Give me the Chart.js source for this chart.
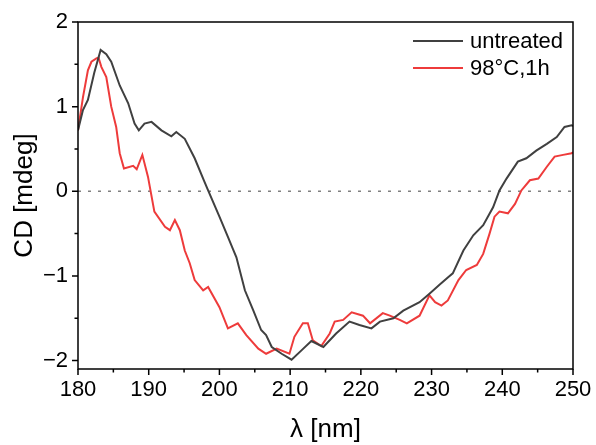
<!DOCTYPE html>
<html>
<head>
<meta charset="utf-8">
<script src="https://cdn.jsdelivr.net/npm/chart.js@4/dist/chart.umd.min.js"></script>
<style>
  html, body { margin: 0; padding: 0; background: #fff; }
  #wrap { width: 596px; height: 445px; }
</style>
</head>
<body>
<div id="wrap"><canvas id="cd"></canvas></div>
<script>
// wavelength (nm) and CD (mdeg)
const lamUntreated = [180, 180.7, 181.4, 182.3, 183.2, 184, 184.7, 185.9, 187.1, 188, 188.6, 189.4, 190.4, 191.8, 193.2, 193.9, 195.1, 196.5, 197.8, 198.4, 200, 201.2, 201.9, 202.4, 203.6, 204.8, 205.9, 206.6, 207.4, 208.8, 210.2, 211.6, 213, 214.7, 216.5, 218.4, 219.8, 221.5, 222.7, 224.6, 226, 228.3, 229.7, 231.2, 232.3, 233, 234.5, 235.9, 237.3, 238.7, 239.6, 240.6, 242.2, 243.4, 244.8, 246.3, 247.7, 248.8, 249.8, 250];
const cdUntreated  = [0.72, 0.96, 1.08, 1.4, 1.67, 1.62, 1.53, 1.25, 1.04, 0.80, 0.72, 0.80, 0.82, 0.72, 0.65, 0.70, 0.62, 0.39, 0.13, 0.01, -0.30, -0.54, -0.68, -0.78, -1.17, -1.41, -1.64, -1.70, -1.84, -1.92, -1.99, -1.88, -1.77, -1.84, -1.68, -1.54, -1.58, -1.62, -1.54, -1.50, -1.41, -1.31, -1.21, -1.10, -1.02, -0.97, -0.70, -0.52, -0.40, -0.19, 0.01, 0.15, 0.35, 0.39, 0.48, 0.56, 0.64, 0.76, 0.78, 0.77];

const lamHeated = [180, 180.7, 181.4, 181.9, 182.6, 182.9, 183.3, 184, 184.7, 185.4, 185.9, 186.5, 187.8, 188.3, 189.1, 189.9, 190.8, 192.3, 193, 193.7, 194.4, 195.1, 195.8, 196.5, 197.7, 198.4, 200, 201.2, 202.6, 203.8, 205.5, 206.6, 208.1, 209.9, 210.6, 211.8, 212.5, 213.2, 214.4, 215.6, 216.3, 217.5, 218.7, 220.3, 221.3, 223.1, 224.1, 225.5, 226.5, 228.3, 229.7, 230.5, 231.4, 232.3, 233.8, 234.9, 236.4, 237.3, 238.2, 238.9, 239.6, 240.8, 241.8, 242.7, 243.9, 245.1, 246.3, 247.4, 248.6, 249.8, 250];
const cdHeated  = [0.72, 1.11, 1.43, 1.53, 1.57, 1.58, 1.47, 1.35, 1.00, 0.76, 0.45, 0.27, 0.30, 0.26, 0.43, 0.17, -0.24, -0.42, -0.46, -0.34, -0.46, -0.70, -0.85, -1.05, -1.17, -1.13, -1.37, -1.62, -1.56, -1.70, -1.86, -1.92, -1.86, -1.92, -1.72, -1.56, -1.56, -1.76, -1.83, -1.68, -1.54, -1.52, -1.43, -1.47, -1.56, -1.44, -1.47, -1.52, -1.56, -1.47, -1.23, -1.31, -1.35, -1.29, -1.05, -0.93, -0.87, -0.74, -0.50, -0.30, -0.24, -0.26, -0.15, 0.01, 0.13, 0.15, 0.29, 0.41, 0.43, 0.45, 0.46];

const seriesNames = ['untreated', '98\u00b0C,1h'];
const yMajor = [-2, -1, 0, 1, 2];

const FONT = 'Arial, "Liberation Sans", sans-serif';

function pts(xs, ys) { return xs.map((x, i) => ({ x: x, y: ys[i] })); }

// frame, outward ticks, dotted zero line, legend
const decor = {
  id: 'decor',
  beforeDatasetsDraw(chart) {
    const { ctx, chartArea: a, scales: { x, y } } = chart;
    const y0 = y.getPixelForValue(0);
    ctx.save();
    ctx.strokeStyle = '#808080';
    ctx.lineWidth = 1.5;
    ctx.setLineDash([3, 7]);
    ctx.beginPath();
    ctx.moveTo(a.left, y0);
    ctx.lineTo(a.right, y0);
    ctx.stroke();
    ctx.restore();
  },
  afterDraw(chart) {
    const { ctx, chartArea: a, scales: { x, y } } = chart;
    ctx.save();
    ctx.strokeStyle = '#000';
    ctx.lineWidth = 1.5;
    ctx.strokeRect(a.left, a.top, a.right - a.left, a.bottom - a.top);
    ctx.beginPath();
    for (let v = 180; v <= 250; v += 5) {
      const px = x.getPixelForValue(v);
      const len = v % 10 === 0 ? 6 : 3.5;
      ctx.moveTo(px, a.bottom);
      ctx.lineTo(px, a.bottom + len);
    }
    for (let v = -2; v <= 2; v += 0.5) {
      const py = y.getPixelForValue(v);
      const len = Number.isInteger(v) ? 6 : 3.5;
      ctx.moveTo(a.left, py);
      ctx.lineTo(a.left - len, py);
    }
    ctx.stroke();

    // legend
    ctx.font = '22px ' + FONT;
    ctx.textBaseline = 'middle';
    ctx.textAlign = 'left';
    chart.data.datasets.forEach((ds, i) => {
      const ly = 41 + i * 27;
      ctx.strokeStyle = ds.borderColor;
      ctx.lineWidth = 2;
      ctx.beginPath();
      ctx.moveTo(413, ly);
      ctx.lineTo(463, ly);
      ctx.stroke();
      ctx.fillStyle = '#000';
      ctx.fillText(ds.label, 470, ly + 1);
    });
    ctx.restore();
  }
};

new Chart(document.getElementById('cd'), {
  type: 'line',
  data: {
    datasets: [
      { label: seriesNames[0], data: pts(lamUntreated, cdUntreated), borderColor: '#404040', borderWidth: 2, pointRadius: 0, tension: 0 },
      { label: seriesNames[1], data: pts(lamHeated, cdHeated), borderColor: '#ee3b3b', borderWidth: 2, pointRadius: 0, tension: 0 }
    ]
  },
  options: {
    responsive: true,
    maintainAspectRatio: false,
    animation: false,
    layout: { padding: { top: 22, right: 23, left: 0, bottom: 0 } },
    plugins: { legend: { display: false }, tooltip: { enabled: false } },
    scales: {
      x: {
        type: 'linear',
        min: 180,
        max: 250,
        afterFit(s) { s.height = 76; s.paddingLeft = 0; s.paddingRight = 0; },
        grid: { display: false, drawTicks: false },
        border: { display: false },
        ticks: { stepSize: 10, padding: 8, color: '#000', font: { family: FONT, size: 22 } },
        title: { display: true, text: '\u03bb [nm]', color: '#000', font: { family: FONT, size: 26 }, padding: { top: 0, bottom: 0 } }
      },
      y: {
        min: -2.1,
        max: 2,
        afterFit(s) { s.width = 78; s.paddingTop = 0; s.paddingBottom = 0; },
        afterBuildTicks(s) { s.ticks = yMajor.map(v => ({ value: v })); },
        grid: { display: false, drawTicks: false },
        border: { display: false },
        ticks: {
          padding: 10,
          color: '#000',
          font: { family: FONT, size: 22 },
          callback: v => (v < 0 ? '\u2212' + Math.abs(v) : String(v))
        },
        title: { display: true, text: 'CD [mdeg]', color: '#000', font: { family: FONT, size: 26 }, padding: { top: 9, bottom: 0 } }
      }
    }
  },
  plugins: [decor]
});
</script>
</body>
</html>
